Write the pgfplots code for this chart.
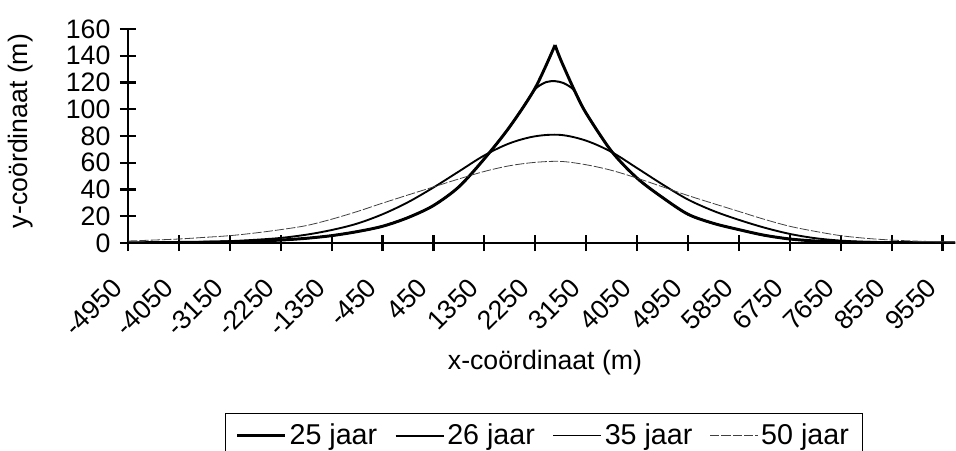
\documentclass[border=0pt]{standalone}
\usepackage{pgfplots}
\pgfplotsset{compat=1.18}
\usepackage{fontspec}
\setmainfont{Liberation Sans}
\begin{document}
\begin{tikzpicture}
\begin{axis}[
  at={(0,0)}, anchor=south west,
  scale only axis,
  width=620.25pt, height=160.5pt,
  xmin=-4950, xmax=9671,
  ymin=0, ymax=160,
  axis x line=bottom, axis y line=left,
  axis line style={-, line width=1.6pt},
  every tick/.style={black, line width=1.6pt},
  tick align=center,
  major tick length=12pt,
  xtick={-4950,-4050,-3150,-2250,-1350,-450,450,1350,2250,3150,4050,4950,5850,6750,7650,8550,9450},
  xticklabels={-4950,-4050,-3150,-2250,-1350,-450,450,1350,2250,3150,4050,4950,5850,6750,7650,8550,9550},
  ytick={0,20,40,60,80,100,120,140,160},
  /pgf/number format/assume math mode=true,
  ticklabel style={font=\fontsize{20}{20}\selectfont},
  x tick label style={xshift=-8pt, yshift=-24pt, rotate=45, anchor=east, inner sep=0pt},
  y tick label style={anchor=east, inner sep=0pt, xshift=-7pt},
  legend columns=4,
  legend style={at={(0.1173,-0.795)}, anchor=north west, draw=black, line width=0.5pt,
    inner xsep=8pt, inner ysep=6pt,
    font=\fontsize{21.5}{21.5}\selectfont,
    nodes={inner sep=2pt},
    /tikz/every even column/.append style={column sep=11pt}},
  legend image code/.code={\draw[#1] (0pt,0pt) -- (36pt,0pt);},
]
% 25 jaar (left flank up to the cusp)
\addplot[black, line width=2.2pt, smooth, tension=0.5] coordinates {
(-4950,0.15) (-4500,0.25) (-4050,0.4) (-3600,0.6) (-3150,0.9) (-2700,1.4) (-2250,2.2)
(-1800,3.5) (-1350,5.5) (-900,8.5) (-450,12.5) (0,19) (450,28) (900,42) (1350,63)
(1800,87) (2250,116) (2600,148)};
\addlegendentry{25 jaar}
% 25 jaar (right flank)
\addplot[black, line width=2.2pt, smooth, tension=0.5, forget plot] coordinates {
(2600,148) (2700,137) (2950,113.4) (3150,97) (3600,68.5) (4050,48.5) (4500,34) (4950,21.5)
(5400,14.7) (5850,10) (6300,5.8) (6750,3) (7200,1.5) (7650,0.8) (8100,0.5) (8550,0.3)
(9000,0.2) (9450,0.1) (9671,0.05)};
% 26 jaar
\addplot[black, line width=1.5pt, smooth, tension=0.5] coordinates {
(-4950,0.15) (-4500,0.25) (-4050,0.4) (-3600,0.6) (-3150,0.9) (-2700,1.4) (-2250,2.2)
(-1800,3.5) (-1350,5.5) (-900,8.5) (-450,12.5) (0,19) (450,28) (900,42) (1350,63)
(1800,87) (2200,112.2) (2300,117) (2450,120.4) (2600,121) (2750,119.6) (2900,115.8)
(2950,113.4) (3050,105.2) (3150,97) (3600,68.5) (4050,48.5) (4500,34) (4950,21.5)
(5400,14.7) (5850,10) (6300,5.8) (6750,3) (7200,1.5) (7650,0.8) (8100,0.5) (8550,0.3)
(9000,0.2) (9450,0.1) (9671,0.05)};
\addlegendentry{26 jaar}
% 35 jaar
\addplot[black, line width=1.4pt, smooth, tension=0.55] coordinates {
(-4950,0.15) (-4500,0.3) (-4050,0.5) (-3600,0.9) (-3150,1.4) (-2700,2.4) (-2250,3.8)
(-1800,6.2) (-1350,9.7) (-900,14.5) (-450,21.5) (0,30.5) (450,41.5) (900,53.5) (1350,65.5)
(1800,74.6) (2250,79.8) (2700,80.8) (3150,76.5) (3600,68) (4050,56) (4500,43.8) (4950,32.5)
(5400,24) (5850,17.3) (6300,11.5) (6750,6.8) (7200,3.6) (7650,1.8) (8100,0.9) (8550,0.45)
(9000,0.25) (9450,0.15) (9671,0.1)};
\addlegendentry{35 jaar}
% 50 jaar
\addplot[black!75, line width=0.6pt, dash pattern=on 7pt off 1.5pt, smooth, tension=0.55] coordinates {
(-4950,1.5) (-4500,2.2) (-4050,3) (-3600,4.2) (-3150,5.5) (-2700,7.5) (-2250,10) (-1800,13)
(-1350,17.8) (-900,23.5) (-450,29.8) (0,35.9) (450,41.9) (900,47.9) (1350,53.5) (1800,57.8)
(2250,60.3) (2700,61) (3150,58.5) (3600,54.3) (4050,48.5) (4500,42) (4950,35.5) (5400,29.5)
(5850,23.6) (6300,17.7) (6750,12.5) (7200,8.7) (7650,5.5) (8100,3.5) (8550,2.2) (9000,1.4)
(9450,0.9) (9671,0.7)};
\addlegendentry{50 jaar}
\end{axis}
\node[anchor=base, font=\fontsize{20}{20}\selectfont] at (312.75pt,-94.9pt) {x-coördinaat (m)};
\node[anchor=base, rotate=90, font=\fontsize{20}{20}\selectfont] at (-75.5pt,84pt) {y-coördinaat (m)};
\pgfresetboundingbox
\useasboundingbox (-96pt,182.25pt) rectangle (621pt,-155.25pt);
\end{tikzpicture}
\end{document}
